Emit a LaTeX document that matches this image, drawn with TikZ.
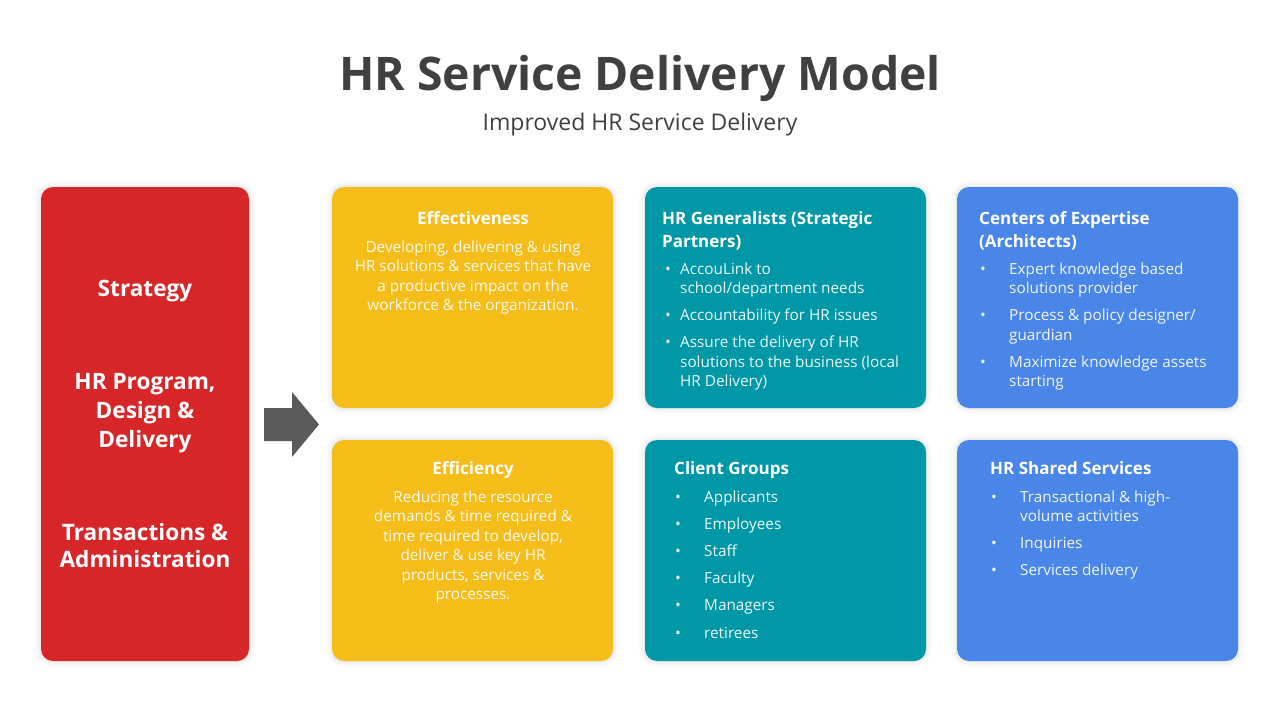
\documentclass[tikz,border=0pt]{standalone}
\usepackage{fontspec}
\setmainfont{Open Sans}
\definecolor{cred}{HTML}{D72628}
\definecolor{cyel}{HTML}{F5BD19}
\definecolor{cteal}{HTML}{0097A7}
\definecolor{cblue}{HTML}{4A86E8}
\definecolor{ctitle}{HTML}{404040}
\definecolor{carrow}{HTML}{5A5A5A}
\tikzset{
  box/.style={rounded corners=12pt, draw=none, inner sep=0pt,
    preaction={draw=black, draw opacity=0.02, line width=12pt},
    preaction={draw=black, draw opacity=0.025, line width=7pt},
    preaction={draw=black, draw opacity=0.03, line width=3pt}},
  head/.style={text=white, font=\fontsize{17}{23}\selectfont\bfseries, inner sep=0pt, align=left},
  headc/.style={text=white, font=\fontsize{17}{23}\selectfont\bfseries, inner sep=0pt},
  body/.style={text=white, text opacity=0.92, font=\fontsize{15.3}{19.5}\selectfont, inner sep=0pt},
  redtxt/.style={text=white, font=\fontsize{22.6}{29}\selectfont\bfseries, inner sep=0pt, align=center},
}
\newcommand{\bl}[1]{\hspace*{#1}\textbullet}
\begin{document}
\begin{tikzpicture}[x=1pt,y=-1pt]
\useasboundingbox (0,0) rectangle (1280,720);
\fill[white] (0,0) rectangle (1280,720);

% title
\node[text=ctitle, font=\fontsize{46.3}{52}\selectfont\bfseries, anchor=base, inner sep=0pt] (title) at (640,90) {HR Service Delivery Model};
\node[text=ctitle, font=\fontsize{23}{28}\selectfont, anchor=base, inner sep=0pt] (sub) at (640,130) {Improved HR Service Delivery};

% boxes
\node[box, fill=cred, minimum width=208pt, minimum height=474pt] (red) at (145,424) {};
\node[box, fill=cyel, minimum width=281pt, minimum height=221pt] (eff) at (472.5,297.5) {};
\node[box, fill=cteal, minimum width=281pt, minimum height=221pt] (gen) at (785.5,297.5) {};
\node[box, fill=cblue, minimum width=281pt, minimum height=221pt] (coe) at (1097.5,297.5) {};
\node[box, fill=cyel, minimum width=281pt, minimum height=221pt] (effi) at (472.5,550.5) {};
\node[box, fill=cteal, minimum width=281pt, minimum height=221pt] (cli) at (785.5,550.5) {};
\node[box, fill=cblue, minimum width=281pt, minimum height=221pt] (hss) at (1097.5,550.5) {};

% arrow
\fill[carrow] (264,408) -- (292,408) -- (292,392) -- (319,424.5) -- (292,457) -- (292,441) -- (264,441) -- cycle;

% red text
\node[redtxt, anchor=base] (t1) at (145,296) {Strategy};
\node[redtxt, anchor=base] (t2) at (145,389) {\begin{tabular}[t]{@{}c@{}}HR Program,\\Design \&\\Delivery\end{tabular}};
\node[redtxt, anchor=base] (t3) at (145,540) {\begin{tabular}[t]{@{}c@{}}Transactions \&\\[-1.5pt]Administration\end{tabular}};

% effectiveness
\node[headc, anchor=base] (effh) at (473,224) {Effectiveness};
\node[body, anchor=base] (effb) at (473,252) {\begin{tabular}[t]{@{}c@{}}Developing, delivering \& using\\HR solutions \& services that have\\a productive impact on the\\workforce \& the organization.\end{tabular}};

% efficiency
\node[headc, anchor=base] (effih) at (473,474) {Efficiency};
\node[body, anchor=base] (effib) at (473,502) {\begin{tabular}[t]{@{}c@{}}Reducing the resource\\demands \& time required \&\\time required to develop,\\deliver \& use key HR\\products, services \&\\processes.\end{tabular}};

% HR generalists
\node[head, anchor=base west] (genh) at (662,224) {\begin{tabular}[t]{@{}l@{}}HR Generalists (Strategic\\Partners)\end{tabular}};
\node[body, anchor=base west] (genb) at (662,274) {\begin{tabular}[t]{@{}p{18pt}@{}l@{}}
\bl{3pt} & AccouLink to\\
 & school/department needs\\[7.5pt]
\bl{3pt} & Accountability for HR issues\\[7.5pt]
\bl{3pt} & Assure the delivery of HR\\
 & solutions to the business (local\\
 & HR Delivery)
\end{tabular}};

% centers of expertise
\node[head, anchor=base west] (coeh) at (979,224) {\begin{tabular}[t]{@{}l@{}}Centers of Expertise\\(Architects)\end{tabular}};
\node[body, anchor=base west] (coeb) at (979,274) {\begin{tabular}[t]{@{}p{30pt}@{}l@{}}
\bl{1pt} & Expert knowledge based\\
 & solutions provider\\[7.5pt]
\bl{1pt} & Process \& policy designer/\\
 & guardian\\[7.5pt]
\bl{1pt} & Maximize knowledge assets\\
 & starting
\end{tabular}};

% client groups
\node[headc, anchor=base west] (clih) at (674,474) {Client Groups};
\node[body, anchor=base west] (clib) at (674,502) {\begin{tabular}[t]{@{}p{30pt}@{}l@{}}
\bl{1pt} & Applicants\\[7.7pt]
\bl{1pt} & Employees\\[7.7pt]
\bl{1pt} & Staff\\[7.7pt]
\bl{1pt} & Faculty\\[7.7pt]
\bl{1pt} & Managers\\[7.7pt]
\bl{1pt} & retirees
\end{tabular}};

% HR shared services
\node[headc, anchor=base west] (hssh) at (990,474) {HR Shared Services};
\node[body, anchor=base west] (hssb) at (990,502) {\begin{tabular}[t]{@{}p{30pt}@{}l@{}}
\bl{1pt} & Transactional \& high-\\
 & volume activities\\[7.5pt]
\bl{1pt} & Inquiries\\[7.7pt]
\bl{1pt} & Services delivery
\end{tabular}};
\end{tikzpicture}
\end{document}
